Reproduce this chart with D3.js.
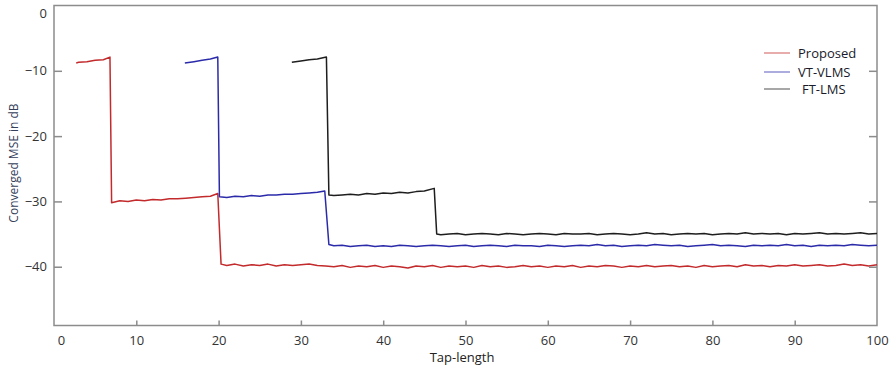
<!DOCTYPE html>
<html>
<head>
<meta charset="utf-8">
<script src="https://cdn.jsdelivr.net/npm/d3@7"></script>
<style>
  body { margin: 0; background: #fff; }
  text { font-family: "Open Sans", "DejaVu Sans", sans-serif; }
</style>
</head>
<body>
<div id="chart"></div>
<script>
// series names and colours
const seriesNames = ['Proposed', 'VT-VLMS', 'FT-LMS'];
const seriesColors = ['#c22a2c', '#2b2baa', '#1e1e1e'];

// axis ticks
const xTicks = [0, 10, 20, 30, 40, 50, 60, 70, 80, 90, 100];
const yTicks = [0, -10, -20, -30, -40];

// Proposed: head points (tap-length, MSE) and a tail with one value per tap from tailStart
const propHeadX = [2.7, 3, 4, 5, 6, 6.8, 7.0, 8, 9, 10, 11, 12, 13, 14, 15, 16, 17, 18, 19, 19.9, 20.3];
const propHeadY = [-8.8, -8.7, -8.6, -8.4, -8.3, -7.9, -30.2, -29.9, -30.0, -29.8, -29.9, -29.7, -29.8, -29.6, -29.6, -29.5, -29.4, -29.3, -29.2, -28.8, -39.6];
const propTailStart = 21;
const propTail = [
  -39.8,-39.6,-39.9,-39.7,-39.8,-39.6,-39.9,-39.7,-39.8,-39.7,-39.6,-39.8,-39.9,-40.0,-39.8,-40.1,-39.9,-40.0,-39.8,-40.1,
  -39.9,-40.0,-40.2,-39.9,-40.0,-39.8,-40.1,-39.9,-40.0,-39.9,-40.1,-39.8,-40.0,-39.9,-40.1,-40.0,-39.8,-40.0,-39.9,-40.1,
  -39.9,-40.0,-39.8,-40.1,-39.9,-40.0,-39.8,-39.9,-40.1,-39.9,-40.0,-39.8,-40.0,-39.9,-39.8,-40.0,-39.9,-40.1,-39.8,-40.0,
  -39.9,-39.8,-40.0,-39.7,-39.9,-39.8,-40.0,-39.8,-39.9,-39.7,-39.9,-39.8,-39.7,-39.9,-39.8,-39.6,-39.8,-39.7,-39.9,-39.7
];

// VT-VLMS
const vtHeadX = [15.9, 17, 18, 19, 19.9, 20.1, 21, 22, 23, 24, 25, 26, 27, 28, 29, 30, 31, 32, 32.9, 33.4];
const vtHeadY = [-8.8, -8.6, -8.4, -8.2, -7.9, -29.3, -29.4, -29.2, -29.3, -29.1, -29.2, -29.0, -29.0, -28.9, -28.9, -28.8, -28.7, -28.6, -28.4, -36.6];
const vtTailStart = 34;
const vtTail = [
  -36.8,-36.7,-36.9,-36.8,-36.7,-36.9,-36.8,-36.9,-36.7,-36.8,-36.9,-36.8,-36.7,-36.8,-36.9,-36.8,-36.7,-36.9,-36.8,-36.7,
  -36.8,-36.9,-36.7,-36.8,-36.8,-36.9,-36.7,-36.8,-36.9,-36.8,-36.7,-36.8,-36.6,-36.8,-36.7,-36.9,-36.8,-36.7,-36.8,-36.6,
  -36.7,-36.8,-36.7,-36.9,-36.8,-36.7,-36.6,-36.8,-36.7,-36.8,-36.9,-36.7,-36.8,-36.7,-36.8,-36.6,-36.8,-36.7,-36.9,-36.7,
  -36.8,-36.7,-36.8,-36.6,-36.7,-36.8,-36.7
];

// FT-LMS
const ftHeadX = [28.9, 30, 31, 32, 33.1, 33.4, 34, 35, 36, 37, 38, 39, 40, 41, 42, 43, 44, 45, 46.2, 46.5];
const ftHeadY = [-8.7, -8.5, -8.3, -8.2, -7.9, -29.0, -29.1, -29.0, -28.9, -29.0, -28.8, -28.9, -28.7, -28.8, -28.6, -28.7, -28.5, -28.4, -28.0, -35.0];
const ftTailStart = 47;
const ftTail = [
  -35.1,-35.0,-34.9,-35.1,-35.0,-34.9,-35.0,-35.1,-34.9,-35.0,-35.1,-35.0,-34.9,-35.0,-35.1,-34.9,-35.0,-35.0,-34.9,-35.1,
  -35.0,-34.9,-35.0,-35.1,-35.0,-34.8,-35.0,-34.9,-35.1,-35.0,-34.9,-35.0,-34.9,-35.1,-35.0,-34.9,-35.0,-34.8,-35.0,-34.9,
  -35.0,-34.9,-35.1,-34.9,-35.0,-34.9,-34.8,-35.0,-34.9,-35.0,-34.9,-34.8,-35.0,-34.9
];

const w = 896;
const h = 370;
const mLeft = 54, mRight = 877, mTop = 5.5, mBottom = 325.5;

// put head + tail together into point lists
let build = (hx, hy, start, tail) => {
  let pts = hx.map((x, i) => [x, hy[i]]);
  tail.forEach((v, i) => pts.push([start + i, v]));
  return pts;
}
const series = [
  build(propHeadX, propHeadY, propTailStart, propTail),
  build(vtHeadX, vtHeadY, vtTailStart, vtTail),
  build(ftHeadX, ftHeadY, ftTailStart, ftTail)
];

const xScale = d3.scaleLinear().domain([0, 100]).range([mLeft, mRight]);
const yScale = d3.scaleLinear().domain([-49, 0]).range([mBottom, mTop]);

let svg = d3.select('#chart')
  .append('svg')
  .attr('width', w)
  .attr('height', h)
  .style('background-color', '#fff');

// frame
svg.append('rect')
  .attr('x', mLeft).attr('y', mTop)
  .attr('width', mRight - mLeft).attr('height', mBottom - mTop)
  .attr('fill', 'none').attr('stroke', '#8c8c8c').attr('stroke-width', 1.5);

// lines
const line = d3.line().x((d) => xScale(d[0])).y((d) => yScale(d[1]));
svg.selectAll('path.series')
  .data(series)
  .enter()
  .append('path')
  .attr('class', 'series')
  .attr('d', line)
  .attr('fill', 'none')
  .attr('stroke', (d, i) => seriesColors[i])
  .attr('stroke-width', 1.5)
  .attr('stroke-linejoin', 'round');

// axes, ticks pointing inward
const xAxis = d3.axisBottom(xScale).tickValues(xTicks).tickSizeInner(-5).tickSizeOuter(0).tickPadding(10);
const yAxis = d3.axisLeft(yScale).tickValues(yTicks).tickSizeInner(-8).tickSizeOuter(0).tickPadding(7);
const yAxisR = d3.axisRight(yScale).tickValues(yTicks.slice(1)).tickSizeInner(-8).tickSizeOuter(0).tickFormat('');

let gx = svg.append('g').attr('transform', `translate(0, ${mBottom})`).call(xAxis);
let gy = svg.append('g').attr('transform', `translate(${mLeft}, 0)`).call(yAxis);
let gr = svg.append('g').attr('transform', `translate(${mRight}, 0)`).call(yAxisR);

[gx, gy, gr].forEach((g) => {
  g.select('.domain').remove();
  g.selectAll('.tick line').attr('stroke', '#8c8c8c').attr('stroke-width', 1.5);
  g.selectAll('.tick text').attr('fill', '#333').style('font-size', '13px');
});
gy.selectAll('.tick text').filter((d) => d === 0).attr('dy', '0.95em');
gy.selectAll('.tick line').filter((d) => d === 0).remove();
gx.selectAll('.tick text').filter((d) => d === 0).attr('dx', 7);
gx.selectAll('.tick line').filter((d) => d === 0 || d === 100).remove();

// axis titles
svg.append('text')
  .attr('x', 462).attr('y', 362)
  .attr('text-anchor', 'middle')
  .attr('fill', '#222')
  .style('font-size', '13px')
  .text('Tap-length');

svg.append('text')
  .attr('transform', 'translate(18, 163) rotate(-90)')
  .attr('text-anchor', 'middle')
  .attr('fill', '#34405a')
  .style('font-size', '12px')
  .text('Converged MSE in dB');

// legend
const legendY = [53, 72, 89];
let legend = svg.selectAll('g.legend')
  .data(seriesNames)
  .enter()
  .append('g')
  .attr('class', 'legend')
  .attr('transform', (d, i) => `translate(764, ${legendY[i]})`);
legend.append('line')
  .attr('x1', 0).attr('x2', 26)
  .attr('stroke', (d, i) => seriesColors[i])
  .attr('stroke-opacity', 0.6)
  .attr('stroke-width', 1.3);
legend.append('text')
  .attr('x', (d, i) => i === 2 ? 38 : 34)
  .attr('dy', '0.35em')
  .attr('fill', '#1a1a2a')
  .style('font-size', '13px')
  .text((d) => d);
</script>
</body>
</html>
